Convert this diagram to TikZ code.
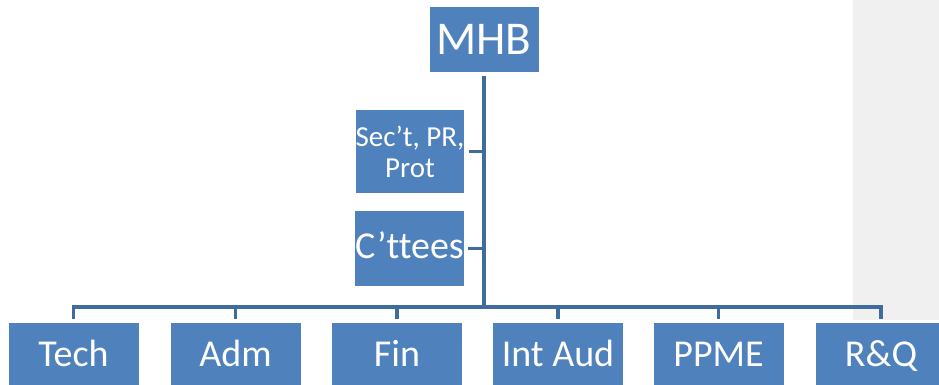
\documentclass[tikz,border=0pt]{standalone}
\usepackage{fontspec}
\setmainfont{Carlito}[Ligatures={NoCommon}]
\definecolor{boxblue}{HTML}{4F81BD}
\definecolor{lineblue}{HTML}{3F6C9C}
\definecolor{panelgrey}{HTML}{F0F0F0}
\begin{document}
\begin{tikzpicture}[x=1pt,y=-1pt,
  unit/.style={fill=boxblue, text=white, inner sep=0pt, align=center},
  conn/.style={draw=lineblue, line width=3.5pt},
  big/.style={font=\fontsize{47}{47}\selectfont},
  mid/.style={font=\fontsize{38}{38}\selectfont, text height=28.5pt, text depth=4.5pt},
  small/.style={font=\fontsize{29}{31}\selectfont}]
\clip (0,0) rectangle (939,385);
% light panel at the right edge
\fill[panelgrey] (853,0) rectangle (939,320);

% top unit
\node[unit, big, minimum width=109pt, minimum height=65pt] (mhb) at (484,39.5) {MHB};

% staff units beside the trunk
\node[unit, small, minimum width=108pt, minimum height=83pt] (sec) at (410,151.5) {Sec’t, PR,\\Prot};
\node[unit, mid, text depth=9.5pt, minimum width=105pt, minimum height=75pt] (ctt) at (409.5,248.5) {C’ttees};

% departments
\foreach \nm/\cx/\txt in {tech/73.5/Tech, adm/235.5/Adm, fin/397/Fin, aud/558/Int Aud, ppme/718.5/PPME, rq/881/R\&Q}
  \node[unit, mid, minimum width=130pt, minimum height=62pt] (\nm) at (\cx,354) {\txt};

% trunk and bus
\coordinate (hub) at (484,307);
\draw[conn, line width=4pt] ([yshift=-4pt]mhb.south) -- (hub);
\draw[conn] ([yshift=4pt]tech.north) -- ([yshift=16pt]tech.north) -- ([yshift=16pt]rq.north) -- ([yshift=4pt]rq.north);
\foreach \nm in {adm, fin, aud, ppme}
  \draw[conn] ([yshift=4pt]\nm.north) -- ([yshift=16pt]\nm.north);

% stubs to the staff units
\draw[conn] ([xshift=4pt]sec.east) -- (sec.east -| hub);
\draw[conn] ([xshift=4pt]ctt.east) -- (ctt.east -| hub);
\end{tikzpicture}
\end{document}
